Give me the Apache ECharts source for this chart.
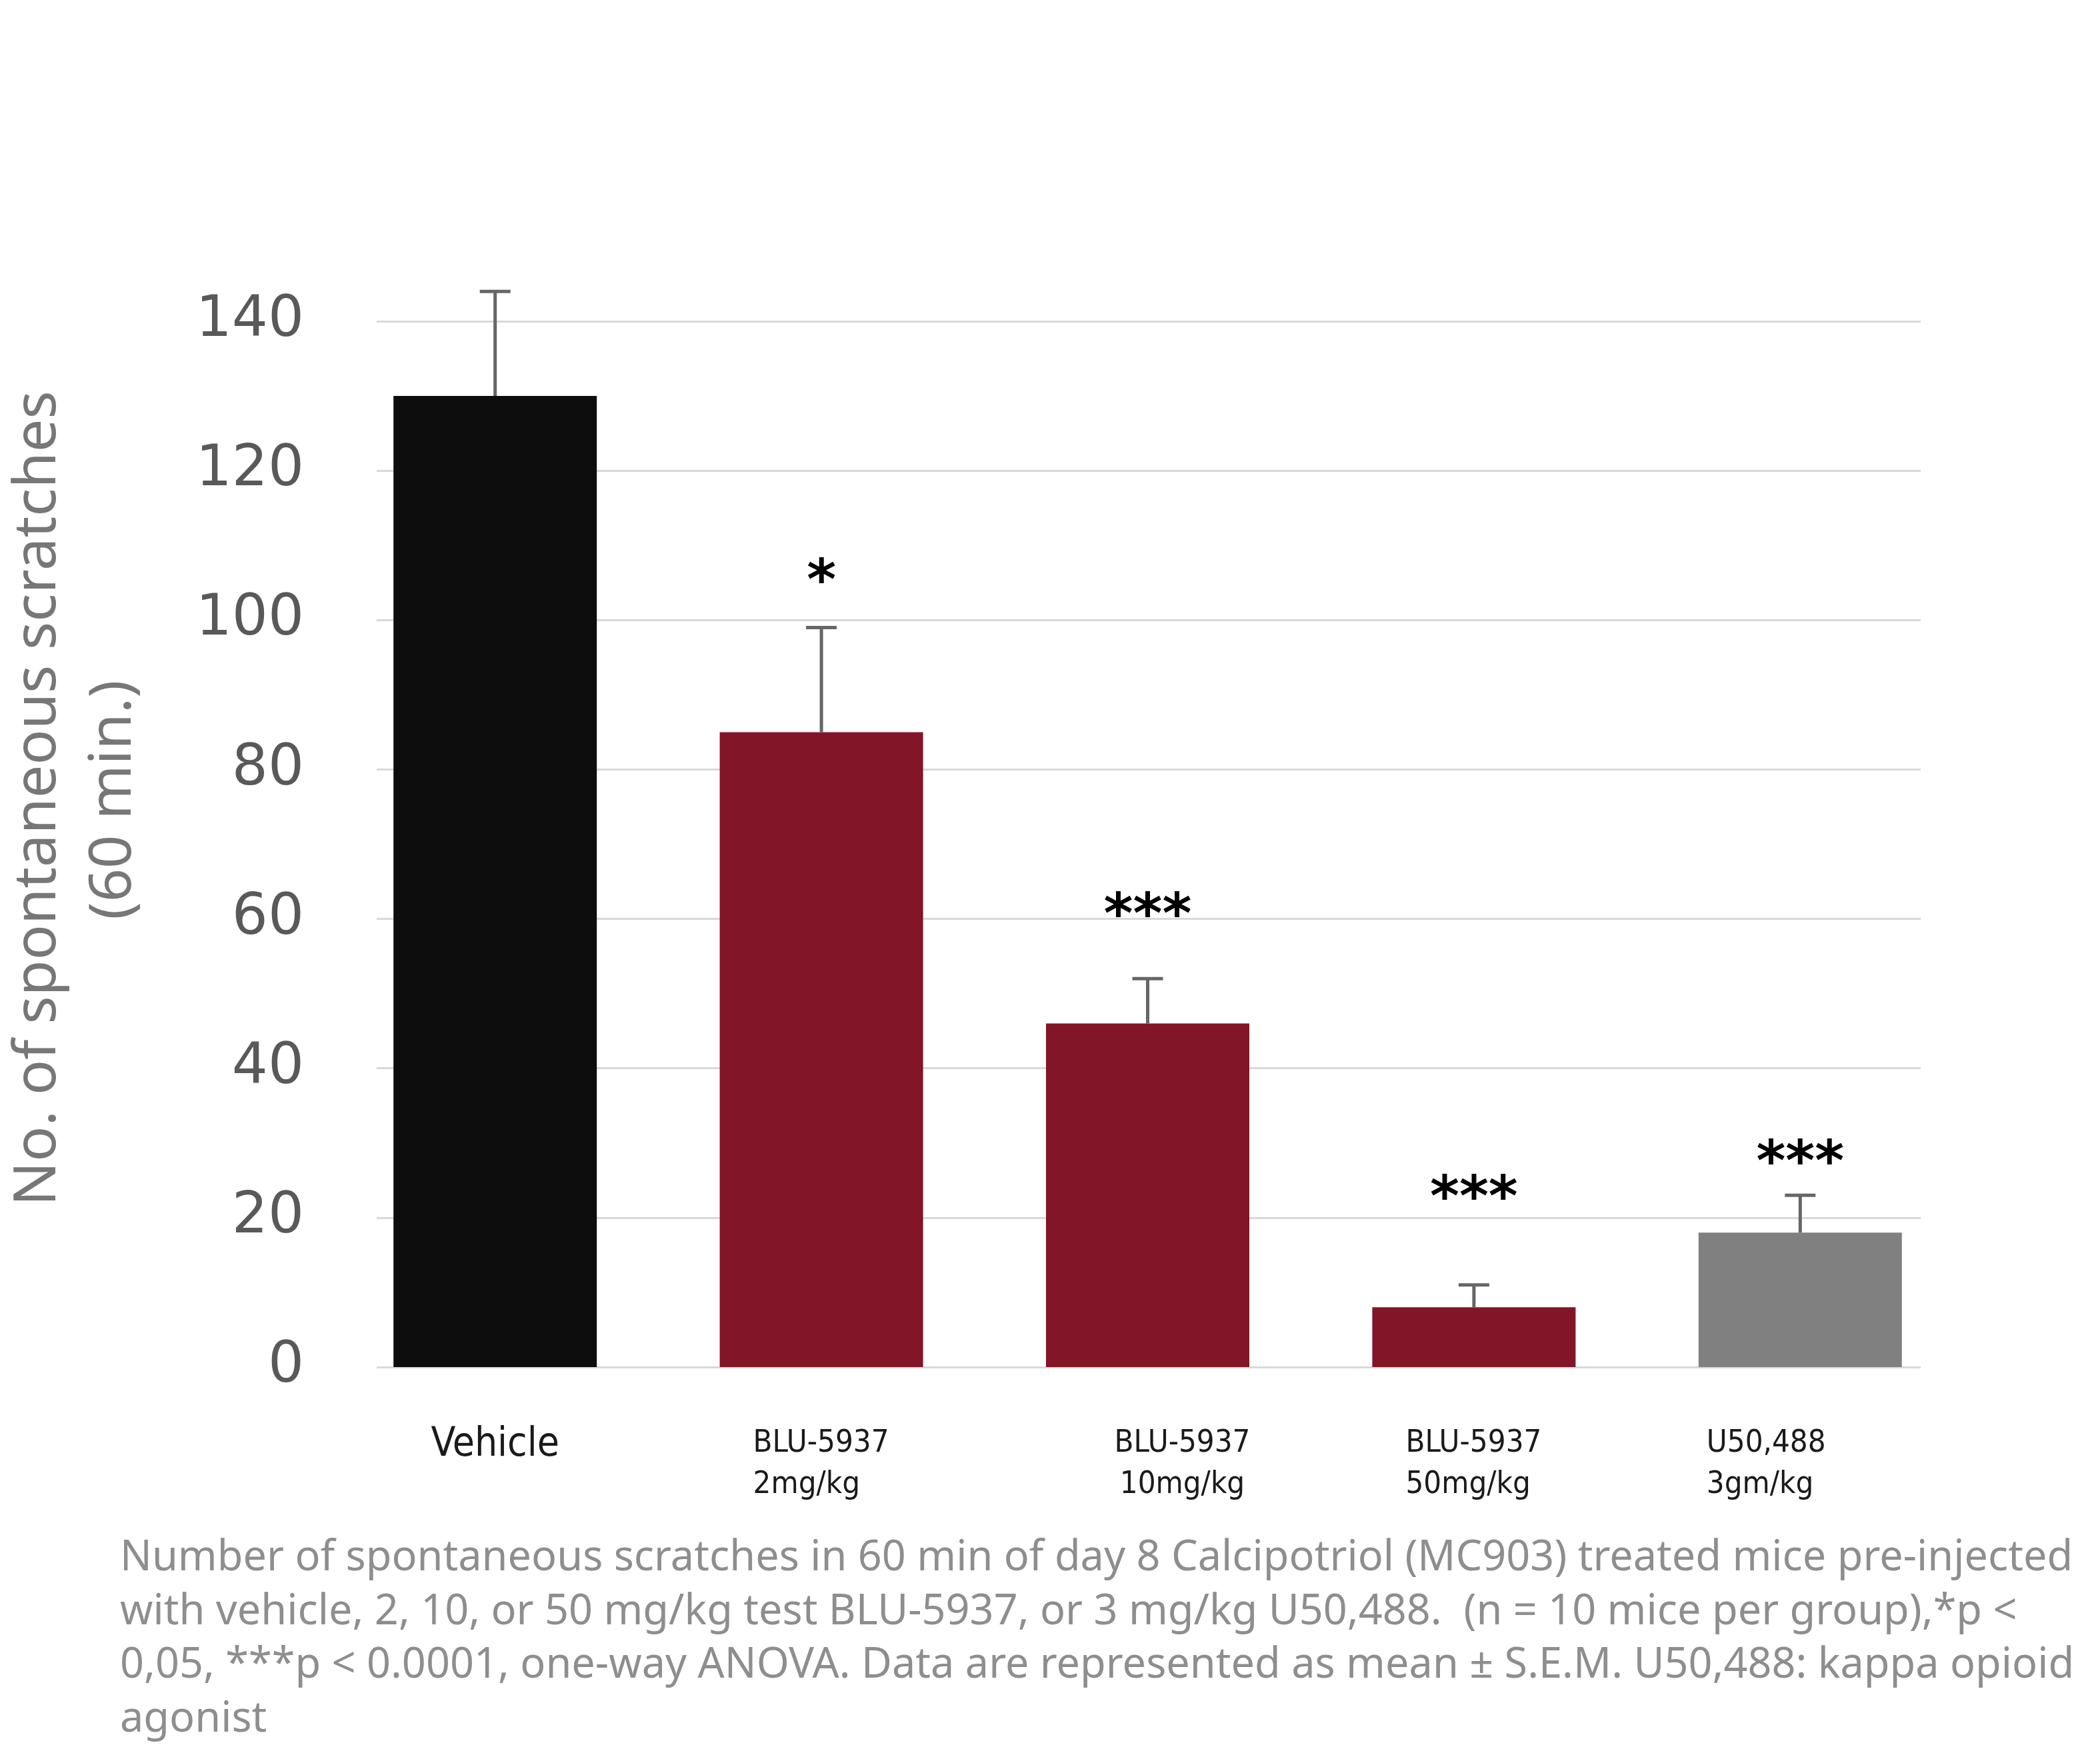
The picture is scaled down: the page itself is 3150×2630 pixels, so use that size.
<!DOCTYPE html>
<html>
<head>
<meta charset="utf-8">
<script src="https://cdn.jsdelivr.net/npm/echarts@6/dist/echarts.min.js"></script>
<style>
html,body{margin:0;padding:0;background:#fff;}
#chart{width:3150px;height:2630px;}
</style>
</head>
<body>
<div id="chart"></div>
<script>
// ---- data ----
const categories = ['Vehicle', 'BLU-5937\n2mg/kg', 'BLU-5937\n10mg/kg', 'BLU-5937\n50mg/kg', 'U50,488\n3gm/kg'];
const means = [130, 85, 46, 8, 18];
const sems = [14, 14, 6, 3, 5];
const barColors = ['#0d0d0d', '#821527', '#821527', '#821527', '#808080'];
const sigLabels = ['', '*', '***', '***', '***'];
const sigY = [null, 106.5, 61.8, 24.0, 28.7];
const yMin = 0, yMax = 140, yInterval = 20;
const yTitle = ['No. of spontaneous scratches', '(60 min.)'];
const caption = [
  'Number of spontaneous scratches in 60 min of day 8 Calcipotriol (MC903) treated mice pre-injected',
  'with vehicle, 2, 10, or 50 mg/kg test BLU-5937, or 3 mg/kg U50,488.  (n = 10 mice per group),*p <',
  '0,05, ***p < 0.0001, one-way ANOVA. Data are represented as mean \u00b1 S.E.M. U50,488: kappa opioid',
  'agonist'
];

const chart = echarts.init(document.getElementById('chart'), null, {renderer: 'canvas'});

const errData = categories.map((c, i) => [i, means[i], means[i] + sems[i]]);
const sigData = [];
categories.forEach((c, i) => { if (sigLabels[i]) sigData.push([i, sigY[i], sigLabels[i]]); });

const labelFont = 'DejaVu Sans Condensed';

const option = {
  backgroundColor: '#ffffff',
  animation: false,
  grid: [
    {left: 565, right: 269, top: 482, bottom: 579},
    {left: 498, right: 205, top: 482, bottom: 579}
  ],
  xAxis: [
    {gridIndex: 0, type: 'value', show: false, min: 0, max: 1},
    {
      gridIndex: 1, type: 'category', data: categories,
      axisLine: {show: false}, axisTick: {show: false},
      axisLabel: {
        interval: 0, margin: 84,
        formatter: function (value, idx) {
          if (idx === 0) return '{v|' + value + '}';
          const parts = value.split('\n');
          if (idx === 2) return '{s| }{l|' + parts[0] + '}\n{s| }{l|' + parts[1] + '}';
          if (idx === 4) return '{l|' + parts[0] + '}{t| }\n{l|' + parts[1] + '}{t| }';
          return '{l|' + parts[0] + '}\n{l|' + parts[1] + '}';
        },
        rich: {
          v: {fontSize: 60, fontFamily: labelFont, color: '#1a1a1a', lineHeight: 66},
          l: {fontSize: 47, fontFamily: labelFont, color: '#1a1a1a', width: 205, align: 'left', lineHeight: 62},
          s: {fontSize: 47, width: 104},
          t: {fontSize: 47, width: 76}
        }
      }
    }
  ],
  yAxis: [
    {
      gridIndex: 0, type: 'value', min: yMin, max: yMax, interval: yInterval,
      axisLine: {show: false}, axisTick: {show: false},
      axisLabel: {fontSize: 85, fontFamily: 'DejaVu Sans', color: '#595959', margin: 109},
      splitLine: {show: true, lineStyle: {color: '#d9d9d9', width: 3}}
    },
    {
      gridIndex: 1, type: 'value', min: yMin, max: yMax, interval: yInterval,
      show: false, splitLine: {show: false}
    }
  ],
  series: [
    {
      type: 'bar', xAxisIndex: 1, yAxisIndex: 1, barWidth: 305,
      data: means.map((v, i) => ({value: v, itemStyle: {color: barColors[i]}}))
    },
    {
      type: 'custom', xAxisIndex: 1, yAxisIndex: 1, z: 5,
      data: errData,
      encode: {x: 0, y: [1, 2]},
      renderItem: function (params, api) {
        const x = api.value(0);
        const p0 = api.coord([x, api.value(1)]);
        const p1 = api.coord([x, api.value(2)]);
        const st = {stroke: '#666666', lineWidth: 5};
        return {
          type: 'group',
          children: [
            {type: 'line', shape: {x1: p0[0], y1: p0[1], x2: p1[0], y2: p1[1]}, style: st},
            {type: 'line', shape: {x1: p1[0] - 23, y1: p1[1], x2: p1[0] + 23, y2: p1[1]}, style: st}
          ]
        };
      }
    },
    {
      type: 'custom', xAxisIndex: 1, yAxisIndex: 1, z: 6,
      data: sigData,
      encode: {x: 0, y: 1},
      renderItem: function (params, api) {
        const p = api.coord([api.value(0), api.value(1)]);
        return {
          type: 'text', x: p[0], y: p[1] + 19,
          style: {
            text: sigData[params.dataIndex][2],
            fontSize: 84, fontWeight: 'bold', fontFamily: 'DejaVu Sans',
            fill: '#000', align: 'center', verticalAlign: 'middle'
          }
        };
      }
    }
  ],
  graphic: [
    {type: 'text', x: 58, y: 1198, rotation: Math.PI / 2,
      style: {text: yTitle[0], fontSize: 88, fontFamily: 'Noto Sans', fill: '#777777', align: 'center', verticalAlign: 'middle'}},
    {type: 'text', x: 171, y: 1200, rotation: Math.PI / 2,
      style: {text: yTitle[1], fontSize: 88, fontFamily: 'Noto Sans', fill: '#777777', align: 'center', verticalAlign: 'middle'}},
    {type: 'text', left: 180, top: 2298,
      style: {text: caption.join('\n'), fontSize: 63, lineHeight: 80.5, fontFamily: 'Noto Sans', fill: '#8e8e8e'}}
  ]
};
chart.setOption(option);
</script>
</body>
</html>
